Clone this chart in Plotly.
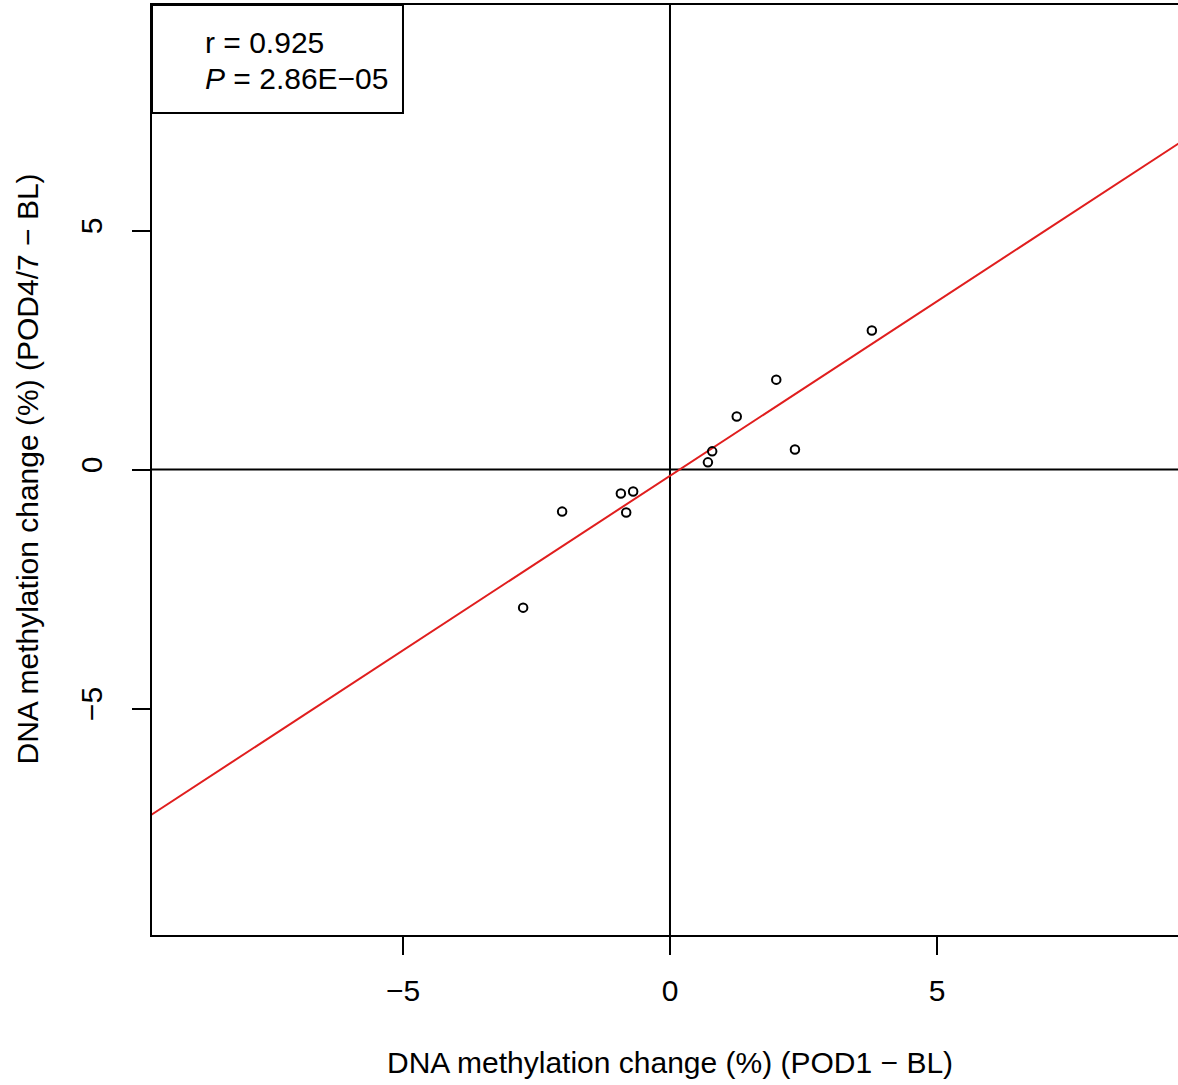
import numpy as np
import plotly.graph_objects as go

# Data
x_change_pod1 = [-2.75, -2.02, -0.92, -0.69, -0.82, 0.71, 0.79, 1.25, 1.99, 2.34, 3.78]
y_change_pod47 = [-2.89, -0.88, -0.50, -0.46, -0.90, 0.15, 0.38, 1.11, 1.88, 0.42, 2.91]
x_ticks = [-5, 0, 5]
y_ticks = [-5, 0, 5]
r_text = "r = 0.925"
p_text = "<i>P</i> = 2.86E\u221205"
x_title = "DNA methylation change (%) (POD1 \u2212 BL)"
y_title = "DNA methylation change (%) (POD4/7 \u2212 BL)"

slope, intercept = np.polyfit(x_change_pod1, y_change_pod47, 1)
line_x = np.array([-12.0, 12.0])
line_y = intercept + slope * line_x

FONT = "Liberation Sans, Arial, Helvetica, sans-serif"
FS = 30
LW = 2
x_range = [-9.70, 9.513]
y_range = [-9.738, 9.718]

fig = go.Figure()
fig.add_trace(go.Scatter(x=line_x, y=line_y, mode="lines",
                         line=dict(color="#e01e1e", width=2),
                         hoverinfo="skip", showlegend=False))
fig.add_trace(go.Scatter(x=x_change_pod1, y=y_change_pod47, mode="markers",
                         marker=dict(symbol="circle-open", size=8.5, color="black",
                                     line=dict(color="black", width=2)),
                         showlegend=False))

# zero reference lines
fig.add_shape(type="line", xref="x", yref="paper", x0=0, x1=0, y0=0, y1=1,
              line=dict(color="black", width=LW), layer="below")
fig.add_shape(type="line", xref="paper", yref="y", x0=0, x1=1, y0=0, y1=0,
              line=dict(color="black", width=LW), layer="below")

# legend-like box
fig.add_shape(type="rect", xref="x", yref="y", x0=x_range[0], x1=-5.0,
              y0=7.46, y1=y_range[1], line=dict(color="black", width=LW),
              fillcolor="white")
fig.add_annotation(xref="x", yref="y", x=-8.74, y=(469.5 - 42) / 47.8,
                   text=r_text, showarrow=False, xanchor="left", yanchor="middle",
                   font=dict(family=FONT, size=FS, color="black"))
fig.add_annotation(xref="x", yref="y", x=-8.74, y=(469.5 - 78) / 47.8,
                   text=p_text, showarrow=False, xanchor="left", yanchor="middle",
                   font=dict(family=FONT, size=FS, color="black"))

# axis titles
fig.add_annotation(xref="x", yref="paper", x=0, y=0, yshift=-(1062 - 935),
                   text=x_title, showarrow=False, xanchor="center", yanchor="middle",
                   font=dict(family=FONT, size=FS, color="black"))
fig.add_annotation(xref="paper", yref="y", x=0, y=0, xshift=-(152 - 28),
                   text=y_title, showarrow=False, xanchor="center", yanchor="middle",
                   textangle=-90,
                   font=dict(family=FONT, size=FS, color="black"))

fig.update_xaxes(range=x_range, tickvals=x_ticks,
                 ticktext=[str(v).replace("-", "\u2212") for v in x_ticks],
                 showgrid=False, zeroline=False, showline=True, mirror=True,
                 linecolor="black", linewidth=LW, ticks="outside", ticklen=18,
                 tickwidth=LW, tickcolor="black", ticklabelstandoff=10,
                 tickfont=dict(family=FONT, size=FS, color="black"))
fig.update_yaxes(range=y_range, tickvals=y_ticks,
                 ticktext=[str(v).replace("-", "\u2212") for v in y_ticks],
                 showgrid=False, zeroline=False, showline=True, mirror=False,
                 linecolor="black", linewidth=LW, ticks="outside", ticklen=18,
                 tickwidth=LW, tickcolor="black", tickangle=-90, ticklabelstandoff=18,
                 tickfont=dict(family=FONT, size=FS, color="black"))

fig.update_layout(width=1178, height=1085,
                  margin=dict(l=152, r=0, t=5, b=150),
                  plot_bgcolor="white", paper_bgcolor="white",
                  font=dict(family=FONT))
fig.write_html("out.html")
